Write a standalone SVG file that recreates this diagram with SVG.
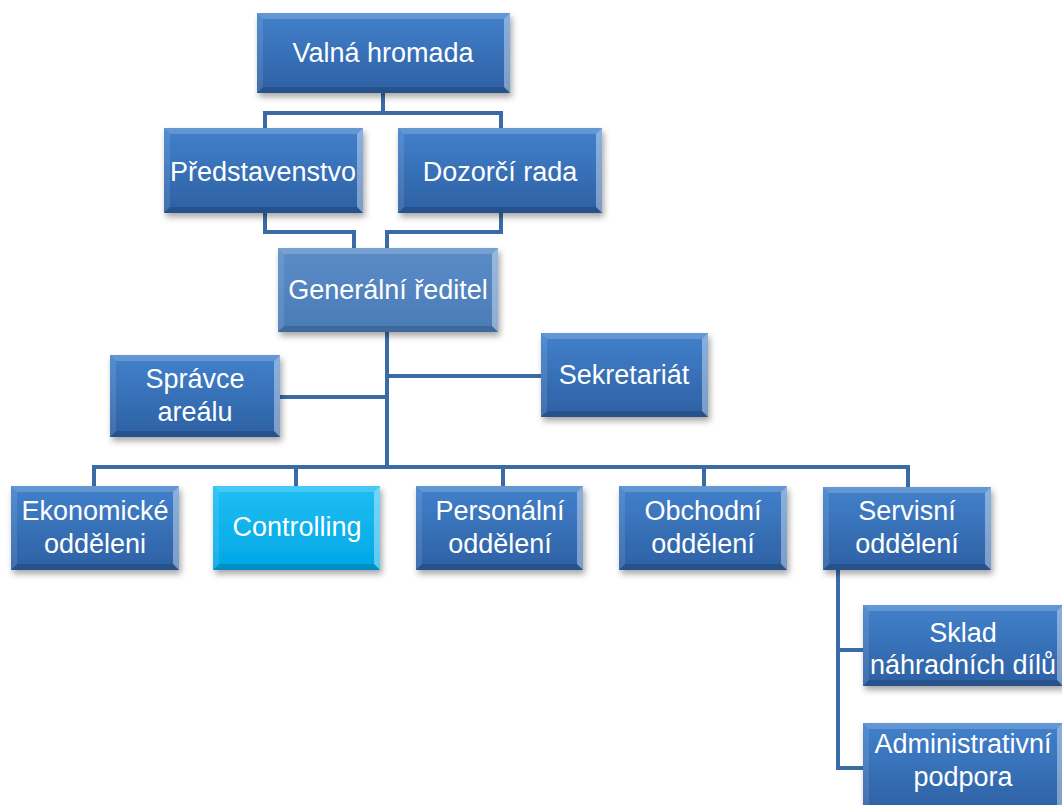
<svg xmlns="http://www.w3.org/2000/svg" width="1062" height="805" viewBox="0 0 1062 805">
  <defs>
    <linearGradient id="gBlue" x1="0" y1="0" x2="0" y2="1">
      <stop offset="0" stop-color="#4281cc"/>
      <stop offset="1" stop-color="#2d60a3"/>
    </linearGradient>
    <linearGradient id="gSteel" x1="0" y1="0" x2="0" y2="1">
      <stop offset="0" stop-color="#5b8dc8"/>
      <stop offset="1" stop-color="#4a7bb6"/>
    </linearGradient>
    <linearGradient id="gCyan" x1="0" y1="0" x2="0" y2="1">
      <stop offset="0" stop-color="#1fbef4"/>
      <stop offset="1" stop-color="#00a7e4"/>
    </linearGradient>
    <filter id="shadow" x="-10%" y="-10%" width="125%" height="135%">
      <feDropShadow dx="2" dy="4" stdDeviation="3" flood-color="#000" flood-opacity="0.35"/>
    </filter>
  </defs>
  <style>
    .face { filter: url(#shadow); }
    .blue { fill: url(#gBlue); }
    .steel { fill: url(#gSteel); }
    .cyan { fill: url(#gCyan); }
    .bt { fill: #ffffff; fill-opacity: 0.18; }
    .bl { fill: #ffffff; fill-opacity: 0.10; }
    .br { fill: #ffffff; fill-opacity: 0.38; }
    .bb { fill: #000000; fill-opacity: 0.15; }
    .lbl { font-family: "Liberation Sans", Arial, sans-serif; font-size: 27px; fill: #ffffff; text-anchor: middle; }
    .conn { fill: none; stroke: #3b6ba6; stroke-width: 4; }
  </style>

  <rect width="1062" height="805" fill="#ffffff"/>

  <!-- connectors -->
  <g id="connectors" class="conn">
    <path d="M383,93 V113"/>
    <path d="M265,128 V113 H501 V128"/>
    <path d="M265,213 V232 H354 V248"/>
    <path d="M501,213 V232 H387 V248"/>
    <path d="M387,332 V467"/>
    <path d="M280,397 H387"/>
    <path d="M387,376 H541"/>
    <path d="M94,486 V467 H908 V487"/>
    <path d="M296,467 V486"/>
    <path d="M503,467 V486"/>
    <path d="M704,467 V486"/>
    <path d="M838,570 V768 H863"/>
    <path d="M838,650 H863"/>
  </g>

  <!-- Valná hromada: 257,13 253x80 -->
  <g id="valna-hromada">
    <rect class="face blue" x="257" y="13" width="253" height="80"/>
    <polygon class="bt" points="257,13 510,13 504,19 263,19"/>
    <polygon class="bl" points="257,13 263,19 263,87 257,93"/>
    <polygon class="br" points="510,13 510,93 504,87 504,19"/>
    <polygon class="bb" points="257,93 510,93 504,87 263,87"/>
    <text class="lbl" x="383" y="62">Valná hromada</text>
  </g>

  <!-- Představenstvo: 164,128 199x85 -->
  <g id="predstavenstvo">
    <rect class="face blue" x="164" y="128" width="199" height="85"/>
    <polygon class="bt" points="164,128 363,128 357,134 170,134"/>
    <polygon class="bl" points="164,128 170,134 170,207 164,213"/>
    <polygon class="br" points="363,128 363,213 357,207 357,134"/>
    <polygon class="bb" points="164,213 363,213 357,207 170,207"/>
    <text class="lbl" x="263" y="181">Představenstvo</text>
  </g>

  <!-- Dozorčí rada: 398,128 204x85 -->
  <g id="dozorci-rada">
    <rect class="face blue" x="398" y="128" width="204" height="85"/>
    <polygon class="bt" points="398,128 602,128 596,134 404,134"/>
    <polygon class="bl" points="398,128 404,134 404,207 398,213"/>
    <polygon class="br" points="602,128 602,213 596,207 596,134"/>
    <polygon class="bb" points="398,213 602,213 596,207 404,207"/>
    <text class="lbl" x="500" y="181">Dozorčí rada</text>
  </g>

  <!-- Generální ředitel: 278,248 220x84 -->
  <g id="generalni-reditel">
    <rect class="face steel" x="278" y="248" width="220" height="84"/>
    <polygon class="bt" points="278,248 498,248 492,254 284,254"/>
    <polygon class="bl" points="278,248 284,254 284,326 278,332"/>
    <polygon class="br" points="498,248 498,332 492,326 492,254"/>
    <polygon class="bb" points="278,332 498,332 492,326 284,326"/>
    <text class="lbl" x="388" y="299">Generální ředitel</text>
  </g>

  <!-- Správce areálu: 110,355 170x82 -->
  <g id="spravce-arealu">
    <rect class="face blue" x="110" y="355" width="170" height="82"/>
    <polygon class="bt" points="110,355 280,355 274,361 116,361"/>
    <polygon class="bl" points="110,355 116,361 116,431 110,437"/>
    <polygon class="br" points="280,355 280,437 274,431 274,361"/>
    <polygon class="bb" points="110,437 280,437 274,431 116,431"/>
    <text class="lbl" x="195" y="388">Správce</text>
    <text class="lbl" x="195" y="421">areálu</text>
  </g>

  <!-- Sekretariát: 541,333 167x84 -->
  <g id="sekretariat">
    <rect class="face blue" x="541" y="333" width="167" height="84"/>
    <polygon class="bt" points="541,333 708,333 702,339 547,339"/>
    <polygon class="bl" points="541,333 547,339 547,411 541,417"/>
    <polygon class="br" points="708,333 708,417 702,411 702,339"/>
    <polygon class="bb" points="541,417 708,417 702,411 547,411"/>
    <text class="lbl" x="624" y="384">Sekretariát</text>
  </g>

  <!-- Ekonomické odděleni: 11,486 168x84 -->
  <g id="ekonomicke-oddeleni">
    <rect class="face blue" x="11" y="486" width="168" height="84"/>
    <polygon class="bt" points="11,486 179,486 173,492 17,492"/>
    <polygon class="bl" points="11,486 17,492 17,564 11,570"/>
    <polygon class="br" points="179,486 179,570 173,564 173,492"/>
    <polygon class="bb" points="11,570 179,570 173,564 17,564"/>
    <text class="lbl" x="95" y="520">Ekonomické</text>
    <text class="lbl" x="95" y="553">odděleni</text>
  </g>

  <!-- Controlling: 213,486 167x84 -->
  <g id="controlling">
    <rect class="face cyan" x="213" y="486" width="167" height="84"/>
    <polygon class="bt" points="213,486 380,486 374,492 219,492"/>
    <polygon class="bl" points="213,486 219,492 219,564 213,570"/>
    <polygon class="br" points="380,486 380,570 374,564 374,492"/>
    <polygon class="bb" points="213,570 380,570 374,564 219,564"/>
    <text class="lbl" x="297" y="536">Controlling</text>
  </g>

  <!-- Personální oddělení: 416,486 167x84 -->
  <g id="personalni-oddeleni">
    <rect class="face blue" x="416" y="486" width="167" height="84"/>
    <polygon class="bt" points="416,486 583,486 577,492 422,492"/>
    <polygon class="bl" points="416,486 422,492 422,564 416,570"/>
    <polygon class="br" points="583,486 583,570 577,564 577,492"/>
    <polygon class="bb" points="416,570 583,570 577,564 422,564"/>
    <text class="lbl" x="500" y="520">Personální</text>
    <text class="lbl" x="500" y="553">oddělení</text>
  </g>

  <!-- Obchodní oddělení: 619,486 168x84 -->
  <g id="obchodni-oddeleni">
    <rect class="face blue" x="619" y="486" width="168" height="84"/>
    <polygon class="bt" points="619,486 787,486 781,492 625,492"/>
    <polygon class="bl" points="619,486 625,492 625,564 619,570"/>
    <polygon class="br" points="787,486 787,570 781,564 781,492"/>
    <polygon class="bb" points="619,570 787,570 781,564 625,564"/>
    <text class="lbl" x="703" y="520">Obchodní</text>
    <text class="lbl" x="703" y="553">oddělení</text>
  </g>

  <!-- Servisní oddělení: 823,487 168x83 -->
  <g id="servisni-oddeleni">
    <rect class="face blue" x="823" y="487" width="168" height="83"/>
    <polygon class="bt" points="823,487 991,487 985,493 829,493"/>
    <polygon class="bl" points="823,487 829,493 829,564 823,570"/>
    <polygon class="br" points="991,487 991,570 985,564 985,493"/>
    <polygon class="bb" points="823,570 991,570 985,564 829,564"/>
    <text class="lbl" x="907" y="520">Servisní</text>
    <text class="lbl" x="907" y="553">oddělení</text>
  </g>

  <!-- Sklad náhradních dílů: 863,605 200x81 -->
  <g id="sklad">
    <rect class="face blue" x="863" y="605" width="200" height="81"/>
    <polygon class="bt" points="863,605 1063,605 1057,611 869,611"/>
    <polygon class="bl" points="863,605 869,611 869,680 863,686"/>
    <polygon class="br" points="1063,605 1063,686 1057,680 1057,611"/>
    <polygon class="bb" points="863,686 1063,686 1057,680 869,680"/>
    <text class="lbl" x="963" y="642">Sklad</text>
    <text class="lbl" x="963" y="674">náhradních dílů</text>
  </g>

  <!-- Administrativní podpora: 863,723 200x90 -->
  <g id="administrativni-podpora">
    <rect class="face blue" x="863" y="723" width="200" height="90"/>
    <polygon class="bt" points="863,723 1063,723 1057,729 869,729"/>
    <polygon class="bl" points="863,723 869,729 869,807 863,813"/>
    <polygon class="br" points="1063,723 1063,813 1057,807 1057,729"/>
    <text class="lbl" x="963" y="753">Administrativní</text>
    <text class="lbl" x="963" y="786">podpora</text>
  </g>
</svg>
